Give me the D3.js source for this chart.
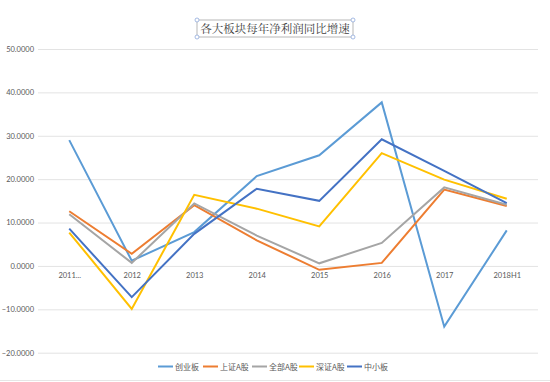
<!DOCTYPE html>
<html><head><meta charset="utf-8">
<script src="https://cdn.jsdelivr.net/npm/d3@7"></script>
<style>body{margin:0;background:#fff}svg{display:block}</style>
</head><body>
<svg id="c" width="550" height="382"></svg>
<script>
const categories = ["2011...", "2012", "2013", "2014", "2015", "2016", "2017", "2018H1"];
const yTicks = [-20, -10, 0, 10, 20, 30, 40, 50];
const seriesNames = ["创业板", "上证A股", "全部A股", "深证A股", "中小板"];
const chuangye = [29.0, 1.2, 7.8, 20.7, 25.5, 37.7, -14.0, 8.2];
const shangzheng = [12.6, 2.8, 14.0, 5.9, -0.9, 0.7, 17.6, 13.8];
const quanbu = [11.9, 0.7, 14.4, 7.0, 0.6, 5.3, 18.1, 14.1];
const shenzheng = [7.7, -9.9, 16.4, 13.2, 9.1, 26.0, 19.9, 15.5];
const zhongxiao = [8.6, -7.2, 7.4, 17.8, 15.0, 29.2, 21.9, 14.5];
const colors = ["#5B9BD5", "#ED7D31", "#A5A5A5", "#FFC000", "#4472C4"];
const title = "各大板块每年净利润同比增速";

const series = [chuangye, shangzheng, quanbu, shenzheng, zhongxiao];
const svg = d3.select("#c");
const x = d3.scalePoint().domain(categories).range([38, 538]).padding(0.5);
const y = d3.scaleLinear().domain([-20, 50]).range([352.7, 49]);

svg.append("line").attr("x1",0).attr("x2",550).attr("y1",380.5).attr("y2",380.5).attr("stroke","#e6e6e6");

const yAxis = d3.axisLeft(y).tickValues(yTicks).tickSize(-500).tickFormat(d => d3.format(".4f")(d));
const gy = svg.append("g").attr("transform","translate(38,0)").call(yAxis);
gy.select(".domain").remove();
gy.selectAll(".tick line").attr("stroke","#e3e3e3").attr("stroke-width",1);
gy.selectAll(".tick text").attr("x",-4).attr("fill","#595959")
  .style("font-family","Lato, 'Liberation Sans', sans-serif").style("font-size","7.5px");

const xAxis = d3.axisBottom(x).tickSize(0);
const gx = svg.append("g").attr("transform",`translate(0,${y(0)})`).call(xAxis);
gx.select(".domain").remove();
gx.selectAll(".tick text").attr("dy","0").attr("y",12).attr("fill","#595959")
  .style("font-family","Lato, 'Liberation Sans', sans-serif").style("font-size","7.5px");

const line = d3.line().x((d,i) => x(categories[i])).y(d => y(d));
series.forEach((s,k) => {
  svg.append("path").datum(s).attr("d", line).attr("fill","none")
    .attr("stroke", colors[k]).attr("stroke-width",2).attr("stroke-linejoin","miter");
});

const tg = svg.append("g");
const bx = 197, bw = 156, by = 20, bh = 17;
tg.append("rect").attr("x",bx).attr("y",by).attr("width",bw).attr("height",bh)
  .attr("fill","none").attr("stroke","#a6a6a6").attr("stroke-width",0.8);
tg.append("text").attr("x",275).attr("y",32.5).attr("text-anchor","middle")
  .attr("fill","#404040").style("font-family","'Noto Serif CJK SC','Noto Sans CJK SC',serif")
  .style("font-size","11.5px").text(title);
[[bx,by],[bx+bw,by],[bx,by+bh],[bx+bw,by+bh]].forEach(p => {
  tg.append("circle").attr("cx",p[0]).attr("cy",p[1]).attr("r",2)
    .attr("fill","#fff").attr("stroke","#8faadc").attr("stroke-width",0.8);
});

const legX = [158, 203, 252, 299, 347];
const lg = svg.append("g");
seriesNames.forEach((n,k) => {
  lg.append("line").attr("x1",legX[k]).attr("x2",legX[k]+15).attr("y1",366.5).attr("y2",366.5)
    .attr("stroke",colors[k]).attr("stroke-width",2);
  lg.append("text").attr("x",legX[k]+17).attr("y",369.5).attr("fill","#595959")
    .style("font-family","'Noto Sans CJK SC',sans-serif").style("font-size","8px").text(n);
});
</script>
</body></html>
